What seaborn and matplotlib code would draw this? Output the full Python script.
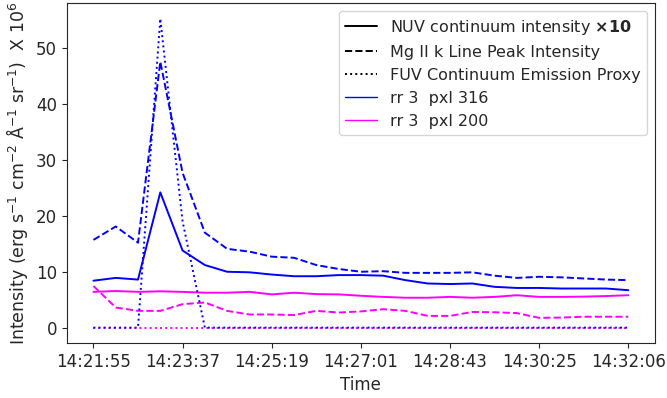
import numpy as np
import pandas as pd
import matplotlib
matplotlib.use("Agg")
import matplotlib.pyplot as plt
from matplotlib.lines import Line2D
import seaborn as sns

# ---- data ----
tick_labels = ["14:21:55", "14:23:37", "14:25:19", "14:27:01", "14:28:43", "14:30:25", "14:32:06"]
n_points = 25

nuv_316 = [8.4, 8.9, 8.6, 24.2, 13.8, 11.2, 10.0, 9.9, 9.5, 9.2, 9.2, 9.4, 9.4,
           9.3, 8.5, 7.9, 7.8, 7.9, 7.3, 7.1, 7.1, 7.0, 7.0, 7.0, 6.7]
mg_316 = [15.7, 18.1, 15.2, 47.6, 27.7, 17.0, 14.1, 13.6, 12.7, 12.5, 11.2, 10.5, 10.0,
          10.1, 9.8, 9.8, 9.8, 9.9, 9.3, 8.9, 9.1, 9.0, 8.8, 8.6, 8.5]
fuv_316 = [0, 0, 0, 55.3, 19.0, 0, 0, 0, 0, 0, 0, 0, 0,
           0, 0, 0, 0, 0, 0, 0, 0, 0, 0, 0, 0]

nuv_200 = [6.4, 6.55, 6.4, 6.5, 6.4, 6.25, 6.25, 6.4, 5.95, 6.25, 6.0, 5.95, 5.7,
           5.5, 5.35, 5.35, 5.5, 5.35, 5.5, 5.8, 5.5, 5.5, 5.55, 5.65, 5.8]
mg_200 = [7.45, 3.6, 3.0, 3.0, 4.2, 4.5, 3.0, 2.35, 2.35, 2.25, 3.0, 2.7, 2.9,
          3.3, 3.0, 2.1, 2.1, 2.8, 2.75, 2.6, 1.75, 1.8, 1.95, 1.95, 1.95]
fuv_200 = [0] * n_points

idx = np.arange(n_points)

sns.set_style("ticks")
plt.rcParams["font.family"] = ["DejaVu Sans"]

fig, ax = plt.subplots(figsize=(6.67, 3.98), dpi=100)
fig.subplots_adjust(left=0.1, right=0.982, top=0.992, bottom=0.138)

blue = "#0000ff"
mag = "#ff00ff"
lw = 1.4

# pxl 200 first (drawn beneath)
sns.lineplot(x=idx, y=nuv_200, color=mag, linestyle="-", lw=lw, ax=ax)
sns.lineplot(x=idx, y=mg_200, color=mag, linestyle="--", lw=lw, ax=ax)
sns.lineplot(x=idx, y=fuv_200, color=mag, linestyle=":", lw=lw, ax=ax)
# pxl 316
sns.lineplot(x=idx, y=nuv_316, color=blue, linestyle="-", lw=lw, ax=ax)
sns.lineplot(x=idx, y=mg_316, color=blue, linestyle="--", lw=lw, ax=ax)
sns.lineplot(x=idx, y=fuv_316, color=blue, linestyle=":", lw=lw, ax=ax)

ax.set_xticks(np.arange(0, n_points, 4))
ax.set_xticklabels(tick_labels)
ax.set_yticks([0, 10, 20, 30, 40, 50])
ax.tick_params(labelsize=12)
for s in ax.spines.values():
    s.set_visible(True)

ax.set_xlabel("Time", fontsize=12)
ax.set_ylabel(r"Intensity (erg s$^{-1}$ cm$^{-2}$ Å$^{-1}$ sr$^{-1}$)  X 10$^{6}$", fontsize=12.5)

handles = [
    Line2D([], [], color="black", ls="-", lw=lw),
    Line2D([], [], color="black", ls="--", lw=lw),
    Line2D([], [], color="black", ls=":", lw=lw),
    Line2D([], [], color=blue, ls="-", lw=1.0),
    Line2D([], [], color=mag, ls="-", lw=1.0),
]
labels = [
    r"NUV continuum intensity $\mathbf{\times 10}$",
    "Mg II k Line Peak Intensity",
    "FUV Continuum Emission Proxy",
    "rr 3  pxl 316",
    "rr 3  pxl 200",
]
ax.legend(handles, labels, loc="upper right", fontsize=11.5, frameon=True)

fig.savefig("out.png", dpi=100)
